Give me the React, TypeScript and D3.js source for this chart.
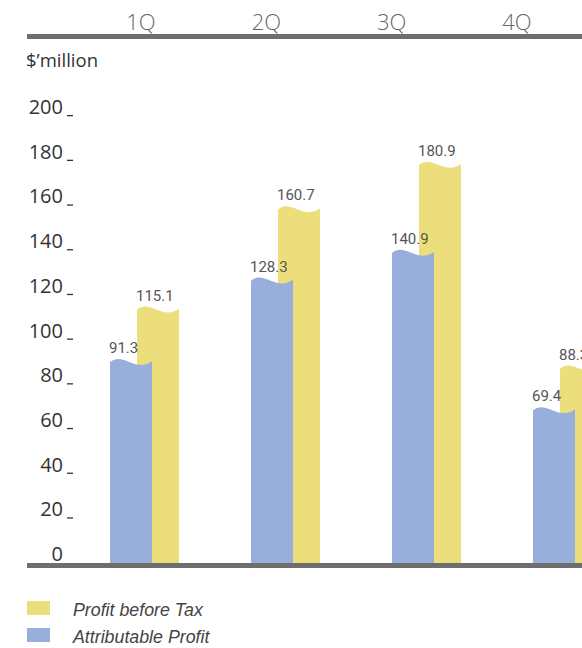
import * as d3 from 'd3';

const quarters = ['1Q', '2Q', '3Q', '4Q'];
const attributableProfit = [91.3, 128.3, 140.9, 69.4];
const profitBeforeTax = [115.1, 160.7, 180.9, 88.3];
const yTicks = [0, 20, 40, 60, 80, 100, 120, 140, 160, 180, 200];

const BLUE = '#98afdb';
const YELLOW = '#ecdf7b';
const AXIS = '#6e6e6e';

const W = 582;
const H = 648;

// bars and quarter headings are spaced differently in the source
const xBar = d3.scalePoint<string>().domain(quarters).range([110, 533]);
const xHead = d3.scalePoint<string>().domain(quarters).range([141, 517]);
const y = d3.scaleLinear().domain([0, 200]).range([563, 123]);
const yLabel = d3.scaleLinear().domain([0, 200]).range([561, 114]);

const BAR_W = 42;
const OFFSET = 27;

// ribbon-like wavy top
const barPath = (x0: number, top: number, bottom: number) => {
  const w = BAR_W;
  const p = d3.path();
  p.moveTo(x0, bottom);
  p.lineTo(x0, top);
  p.bezierCurveTo(x0 + w * 0.3, top - 11, x0 + w * 0.6, top + 11, x0 + w, top - 1);
  p.lineTo(x0 + w, bottom);
  p.closePath();
  return p.toString();
};

export default function App() {
  const base = y(0);
  return (
    <div style={{ position: 'fixed', left: 0, top: 0, width: W, height: H, overflow: 'hidden', background: '#fff' }}>
      <svg width={W} height={H} style={{ display: 'block' }}>
        {/* quarter headings */}
        {quarters.map((q) => (
          <text
            key={q}
            x={xHead(q)}
            y={30}
            textAnchor="middle"
            fontFamily="'Open Sans', sans-serif"
            fontWeight={300}
            fontSize={22}
            fill="#666"
          >
            {q}
          </text>
        ))}
        <rect x={27} y={34} width={W - 27} height={5} fill={AXIS} />

        <text x={26} y={67} fontFamily="'Open Sans', sans-serif" fontSize={18.5} fill="#333">
          $’million
        </text>

        {/* y tick labels */}
        {yTicks.map((t) => (
          <g key={t}>
            <text
              x={63}
              y={yLabel(t)}
              textAnchor="end"
              fontFamily="'Open Sans', sans-serif"
              fontSize={20}
              fill="#333"
            >
              {t}
            </text>
            {t > 0 && <rect x={67} y={yLabel(t) + 1} width={6} height={1.3} fill="#333" />}
          </g>
        ))}

        {/* bars */}
        {quarters.map((q, i) => {
          const x0 = xBar(q)!;
          return (
            <g key={q}>
              <path d={barPath(x0 + OFFSET, y(profitBeforeTax[i]), base)} fill={YELLOW} />
              <path d={barPath(x0, y(attributableProfit[i]), base)} fill={BLUE} />
              <text
                x={x0 + OFFSET - 1}
                y={y(profitBeforeTax[i]) - 9}
                fontFamily="Roboto, sans-serif"
                fontSize={15}
                fill="#555"
              >
                {profitBeforeTax[i].toFixed(1)}
              </text>
              <text
                x={x0 - 1}
                y={y(attributableProfit[i]) - 9}
                fontFamily="Roboto, sans-serif"
                fontSize={15}
                fill="#555"
              >
                {attributableProfit[i].toFixed(1)}
              </text>
            </g>
          );
        })}

        <rect x={27} y={563} width={W - 27} height={5} fill={AXIS} />

        {/* legend */}
        <rect x={27} y={601} width={23} height={14} fill={YELLOW} />
        <text x={73} y={616} fontFamily="'Liberation Sans', Arial, sans-serif" fontStyle="italic" fontSize={17.8} fill="#444">
          Profit before Tax
        </text>
        <rect x={27} y={628} width={23} height={14} fill={BLUE} />
        <text x={73} y={643} fontFamily="'Liberation Sans', Arial, sans-serif" fontStyle="italic" fontSize={17.8} fill="#444">
          Attributable Profit
        </text>
      </svg>
    </div>
  );
}
